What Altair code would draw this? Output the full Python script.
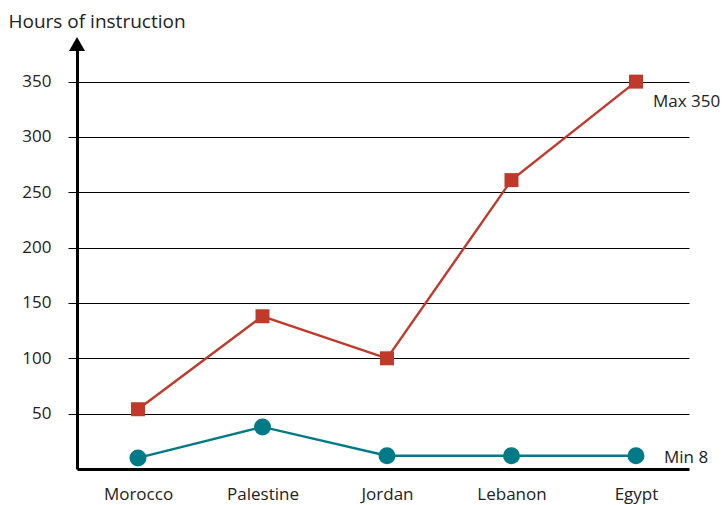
import altair as alt
import pandas as pd

countries = ["Morocco", "Palestine", "Jordan", "Lebanon", "Egypt"]
max_hours = [54, 138, 100, 261, 350]
min_hours = [10, 38, 12, 12, 12]
tick_values = [50, 100, 150, 200, 250, 300, 350]
series_names = ["Max", "Min"]
end_labels = ["Max 350", "Min 8"]
y_top = 384

RED = "#C0392B"
TEAL = "#007A87"
FONT = "Open Sans"

df = pd.DataFrame({
    "country": countries * 2,
    "hours": max_hours + min_hours,
    "series": [series_names[0]] * len(countries) + [series_names[1]] * len(countries),
})
lab_df = pd.DataFrame({
    "country": [countries[-1], countries[-1]],
    "hours": [max_hours[-1], min_hours[-1]],
    "label": end_labels,
    "series": series_names,
})

x = alt.X(
    "country:N", sort=countries,
    scale=alt.Scale(type="point", padding=0.458, align=0.535),
    axis=alt.Axis(title=None, labelAngle=0, ticks=False, grid=False,
                  domainWidth=3, domainColor="black",
                  labelFontSize=17, labelPadding=17, labelColor="#222",
                  labelFont=FONT),
)
y = alt.Y(
    "hours:Q",
    scale=alt.Scale(domain=[0, y_top], nice=False, zero=True),
    axis=alt.Axis(values=tick_values, title="Hours of instruction",
                  titleAngle=0, titleAlign="left", titleBaseline="alphabetic",
                  titleX=-69, titleY=-17, titleFontSize=19, titleFontWeight="normal",
                  titleColor="#222", titleFont=FONT,
                  grid=True, gridColor="black", gridWidth=1, gridOpacity=1,
                  tickSize=9, tickColor="black", tickWidth=1,
                  labelPadding=17, labelFontSize=17, labelColor="#222", labelFont=FONT,
                  domainWidth=3, domainColor="black"),
)
color = alt.Color("series:N", scale=alt.Scale(domain=series_names, range=[RED, TEAL]), legend=None)

base = alt.Chart(df)
lines = base.mark_line(strokeWidth=2.4).encode(x=x, y=y, color=color, detail="series:N")
points = base.mark_point(filled=True, opacity=1).encode(
    x=x, y=y, color=color,
    shape=alt.Shape("series:N", scale=alt.Scale(domain=series_names, range=["square", "circle"]), legend=None),
    size=alt.Size("series:N", scale=alt.Scale(domain=series_names, range=[196, 289]), legend=None),
)
lab_base = alt.Chart(lab_df)
max_lab = lab_base.transform_filter(alt.datum.series == "Max").mark_text(
    align="left", baseline="middle", dx=17, dy=20, fontSize=17, font=FONT, color="#222"
).encode(x=x, y=y, text="label:N")
min_lab = lab_base.transform_filter(alt.datum.series == "Min").mark_text(
    align="left", baseline="middle", dx=28, dy=2, fontSize=17, font=FONT, color="#222"
).encode(x=x, y=y, text="label:N")

arrow = alt.Chart(pd.DataFrame({"a": [0]})).mark_point(
    shape="triangle-up", filled=True, size=256, color="black", opacity=1
).encode(x=alt.value(0), y=alt.datum(y_top))

chart = alt.layer(lines, points, max_lab, min_lab, arrow).properties(
    width=612, height=425,
    autosize=alt.AutoSizeParams(type="none"),
    padding={"left": 77, "top": 44, "right": 34, "bottom": 36},
).configure(font=FONT, background="white").configure_view(stroke=None)

chart.save("out.html", embed_options={"renderer": "svg", "actions": False})
